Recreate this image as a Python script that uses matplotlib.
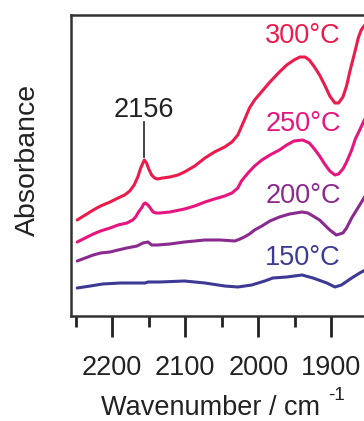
import matplotlib.pyplot as plt

plt.rcParams['font.family'] = ['Liberation Sans', 'DejaVu Sans']

# IR spectra at four temperatures (absorbance, stacked, arbitrary offset)
wn_300 = [2248, 2237, 2226, 2216, 2203, 2192, 2183, 2176, 2170, 2165, 2161, 2158, 2156,
          2153, 2150, 2146, 2142, 2138, 2131, 2121, 2110, 2101, 2087, 2073, 2060, 2046,
          2036, 2028, 2019, 2012, 2005, 1998, 1991, 1984, 1971, 1961, 1951, 1943, 1936,
          1930, 1923, 1916, 1909, 1902, 1895, 1890, 1884, 1879, 1874, 1868, 1863, 1859,
          1853]
abs_300 = [0.096, 0.101, 0.106, 0.110, 0.114, 0.118, 0.121, 0.125, 0.131, 0.139, 0.148,
           0.153, 0.156, 0.153, 0.147, 0.141, 0.138, 0.137, 0.138, 0.139, 0.141, 0.144,
           0.150, 0.158, 0.164, 0.169, 0.174, 0.181, 0.196, 0.208, 0.216, 0.222, 0.228,
           0.234, 0.244, 0.251, 0.256, 0.259, 0.259, 0.256, 0.249, 0.241, 0.231, 0.220,
           0.213, 0.213, 0.219, 0.230, 0.246, 0.263, 0.278, 0.286, 0.292]

wn_250 = [2248, 2237, 2226, 2216, 2203, 2192, 2180, 2172, 2168, 2164, 2159, 2157, 2155,
          2151, 2148, 2144, 2140, 2135, 2121, 2101, 2087, 2073, 2060, 2046, 2036, 2028,
          2023, 2014, 2005, 1995, 1984, 1971, 1961, 1951, 1939, 1930, 1923, 1916, 1909,
          1902, 1895, 1890, 1884, 1879, 1872, 1867, 1861, 1856, 1851]
abs_250 = [0.074, 0.078, 0.082, 0.085, 0.088, 0.091, 0.093, 0.096, 0.099, 0.104, 0.109,
           0.112, 0.113, 0.111, 0.108, 0.104, 0.103, 0.103, 0.104, 0.107, 0.110, 0.114,
           0.117, 0.120, 0.123, 0.128, 0.135, 0.143, 0.150, 0.156, 0.161, 0.166, 0.171,
           0.175, 0.176, 0.173, 0.167, 0.160, 0.152, 0.145, 0.141, 0.142, 0.147, 0.154,
           0.166, 0.177, 0.186, 0.194, 0.201]

wn_200 = [2248, 2237, 2226, 2216, 2203, 2192, 2180, 2166, 2158, 2151, 2146, 2138, 2121,
          2101, 2087, 2073, 2052, 2032, 2025, 2019, 2012, 2005, 1995, 1984, 1971, 1957,
          1940, 1932, 1925, 1916, 1909, 1902, 1893, 1884, 1879, 1872, 1867, 1861, 1856,
          1851]
abs_200 = [0.055, 0.058, 0.061, 0.063, 0.064, 0.066, 0.068, 0.070, 0.073, 0.074, 0.071,
           0.071, 0.072, 0.074, 0.075, 0.076, 0.076, 0.075, 0.077, 0.079, 0.082, 0.086,
           0.090, 0.095, 0.099, 0.102, 0.104, 0.103, 0.100, 0.096, 0.091, 0.086, 0.081,
           0.083, 0.088, 0.098, 0.104, 0.111, 0.117, 0.123]

wn_150 = [2248, 2230, 2213, 2189, 2169, 2155, 2151, 2135, 2101, 2073, 2046, 2028, 2009,
          1991, 1980, 1961, 1940, 1925, 1906, 1895, 1886, 1872, 1861, 1856, 1851]
abs_150 = [0.028, 0.030, 0.032, 0.033, 0.033, 0.033, 0.034, 0.034, 0.035, 0.033, 0.030,
           0.029, 0.031, 0.035, 0.038, 0.039, 0.041, 0.038, 0.033, 0.029, 0.031, 0.038,
           0.043, 0.045, 0.047]

temps = ['300°C', '250°C', '200°C', '150°C']
colors = ['#EC1B4B', '#E8157F', '#8B2A8E', '#3C3A94']
label_y = [0.280, 0.192, 0.120, 0.058]

peak_wn = 2156
peak_abs = 0.156

fs = 19.5
txt = '#222222'

fig = plt.figure(figsize=(3.64, 4.21), dpi=100)
ax = fig.add_axes([71/364, 1 - 316/421, 296/364, 301/421])

series = [(wn_300, abs_300), (wn_250, abs_250), (wn_200, abs_200), (wn_150, abs_150)]
for (wn, a), c, t, ly in zip(series, colors, temps, label_y):
    ax.plot(wn, a, color=c, lw=2.2, solid_capstyle='round', solid_joinstyle='round')
    ax.text(1887, ly, t, color=c, fontsize=fs, ha='right', va='center')

# CO band marker
ax.plot([peak_wn, peak_wn], [peak_abs + 0.003, peak_abs + 0.038], color=txt, lw=1.2)
ax.text(peak_wn, peak_abs + 0.043, str(peak_wn), color=txt, fontsize=fs,
        ha='center', va='baseline')

ax.set_xlim(2256.5, 1851)
ax.set_ylim(0, 0.301)
ax.set_xticks([2200, 2100, 2000, 1900])
ax.set_xticks([2250, 2150, 2050, 1950], minor=True)
ax.set_yticks([])
ax.tick_params(axis='x', which='major', direction='out', length=15, width=2,
               color=txt, labelsize=fs, labelcolor=txt, pad=13)
ax.tick_params(axis='x', which='minor', direction='out', length=8, width=2, color=txt)
for s in ax.spines.values():
    s.set_linewidth(1.8)
    s.set_color('#333333')

ax.set_xlabel('Wavenumber / cm', fontsize=fs, color=txt)
ax.xaxis.set_label_coords(0.47, -0.262)
fig.text(328/364, 1 - 400/421, '-1', fontsize=13.5, color=txt, ha='left', va='baseline')

ax.set_ylabel('Absorbance', fontsize=20.5, color=txt)
ax.yaxis.set_label_coords(-0.10, 0.52)

fig.savefig('out.png', dpi=100)
